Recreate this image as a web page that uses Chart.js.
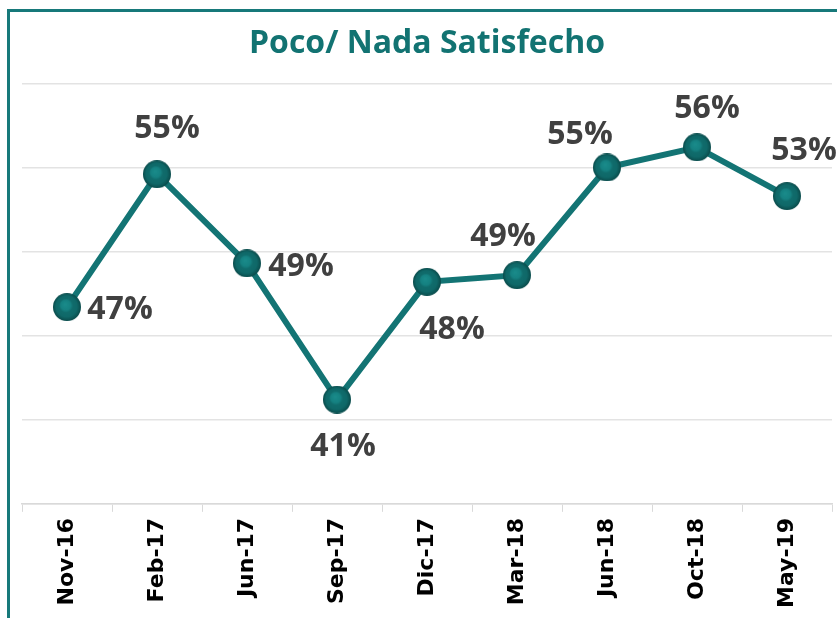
<!DOCTYPE html>
<html>
  <head>
    <title>Poco/ Nada Satisfecho</title>
    <meta charset="utf-8">
    <script src="https://cdn.jsdelivr.net/npm/chart.js@4.4.1/dist/chart.umd.min.js"></script>
  <style>
    body {
        margin: 0;
        background: white;
        overflow: hidden;
    }
    #frame{
        position: absolute;
        left: 7px;
        top: 9px;
        width: 900px;
        height: 700px;
        border: 3px solid #17797a;
        pointer-events: none;
    }
    #chartdiv{
        position: absolute;
        left: 0;
        top: 0;
        width: 837px;
        height: 618px;
    }
  </style>
  </head>
  <body>
      <div id="chartdiv">
          <canvas id="myChart" width="837" height="618"></canvas>
      </div>
      <div id="frame"></div>

      <script>
        // data
        var myLabels = ['Nov-16', 'Feb-17', 'Jun-17', 'Sep-17', 'Dic-17', 'Mar-18', 'Jun-18', 'Oct-18', 'May-19'];
        var myValues = [46.7, 54.6, 49.3, 41.2, 48.2, 48.6, 55.0, 56.2, 53.3];
        var yTicks = [35, 40, 45, 50, 55, 60];

        // where each value label sits relative to its point (px)
        var labelOffsets = [[53, 3], [10, -45], [54, 4], [6, 47], [25, 48], [-14, -38], [-27, -33], [10, -38], [17, -45]];

        function sphere(r){
            var c = document.createElement('canvas');
            c.width = r*2; c.height = r*2;
            var g = c.getContext('2d');
            var grad = g.createRadialGradient(r-2, r-3, 0, r, r, r);
            grad.addColorStop(0, '#1a8c8b');
            grad.addColorStop(0.35, '#158181');
            grad.addColorStop(0.5, '#106c6c');
            grad.addColorStop(0.75, '#0f6868');
            grad.addColorStop(1, '#0a4b4b');
            g.fillStyle = grad;
            g.beginPath();
            g.arc(r, r, r, 0, Math.PI*2);
            g.fill();
            return c;
        }

        var valueLabels = {
            id: 'valueLabels',
            afterDatasetsDraw: function(chart){
                var ctx = chart.ctx;
                var meta = chart.getDatasetMeta(0);
                ctx.save();
                ctx.font = 'bold 32px "Open Sans"';
                ctx.fillStyle = '#404040';
                ctx.textAlign = 'center';
                ctx.textBaseline = 'middle';
                meta.data.forEach(function(pt, i){
                    var v = chart.data.datasets[0].data[i];
                    ctx.fillText(Math.round(v) + '%', pt.x + labelOffsets[i][0], pt.y + labelOffsets[i][1]);
                });
                ctx.restore();
            }
        };

        var ctx = document.getElementById('myChart').getContext('2d');
        var myLineChart = new Chart(ctx, {
            type: 'line',
            data: {
                labels: myLabels,
                datasets: [{
                    data: myValues,
                    borderColor: '#137474',
                    borderWidth: 6,
                    pointStyle: sphere(14),
                    pointRadius: 14,
                    pointHoverRadius: 14,
                    clip: false
                }]
            },
            options: {
                responsive: false,
                animation: false,
                layout: {autoPadding: false, padding: {left: 22, right: 5, top: 0, bottom: 4}},
                plugins: {
                    legend: {display: false},
                    tooltip: {enabled: false},
                    title: {
                        display: true,
                        text: 'Poco/ Nada Satisfecho',
                        color: '#127372',
                        font: {family: '"Open Sans"', size: 32, weight: 'bold'},
                        padding: {top: 25, bottom: 20}
                    }
                },
                scales: {
                    x: {
                        offset: true,
                        afterFit: function(axis){ axis.paddingLeft = 0; axis.paddingRight = 0; },
                        grid: {offset: true, drawOnChartArea: false, drawTicks: true, tickLength: 8, color: '#d9d9d9'},
                        border: {color: '#d9d9d9', width: 1.5},
                        ticks: {
                            maxRotation: 90, minRotation: 90, padding: 6,
                            color: '#000',
                            font: {family: '"DejaVu Sans"', size: 22, weight: 'bold'}
                        }
                    },
                    y: {
                        min: yTicks[0],
                        max: yTicks[yTicks.length - 1],
                        afterBuildTicks: function(axis){ axis.ticks = yTicks.map(function(v){ return {value: v}; }); },
                        grid: {color: '#e3e3e3', lineWidth: 1.5, drawTicks: false},
                        border: {display: false},
                        ticks: {display: false}
                    }
                }
            },
            plugins: [valueLabels]
        });
      </script>
  </body>
</html>
